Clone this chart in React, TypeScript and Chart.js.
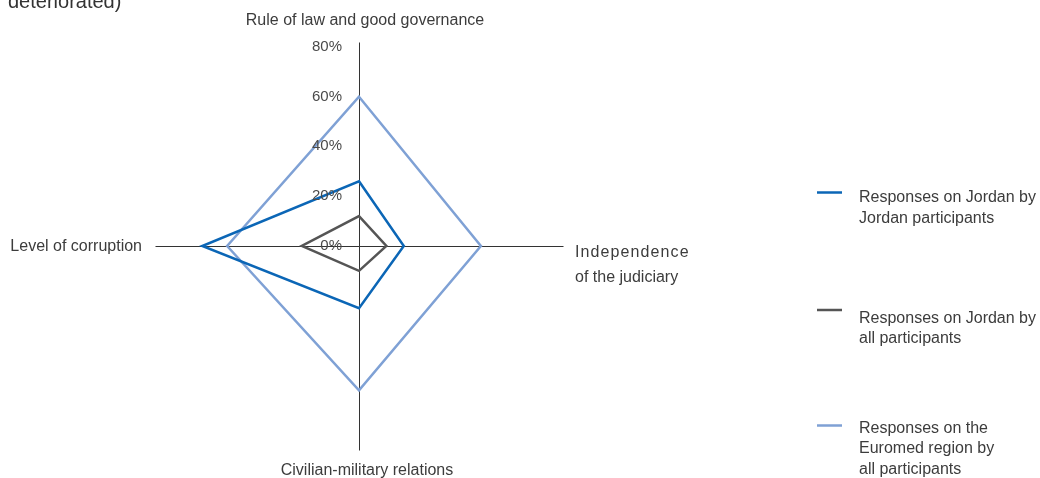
import { useEffect, useRef } from "react";
import { Chart, registerables } from "chart.js";

Chart.register(...registerables);

// ---- data ----
const AXIS_NAMES = [
  "Rule of law and good governance",
  "Independence of the judiciary",
  "Civilian-military relations",
  "Level of corruption",
];
const AXIS_TITLE_LINES = [
  ["Rule of law and good governance"],
  ["Independence", "of the judiciary"],
  ["Civilian-military relations"],
  ["Level of corruption"],
];
const JORDAN_BY_JORDAN = [26, 18, 25, 63];
const JORDAN_BY_ALL = [12, 11, 10, 23];
const EUROMED_BY_ALL = [60, 49, 58, 53];
const TICK_VALUES = [0, 20, 40, 60, 80];
const TICK_LABELS = ["0%", "20%", "40%", "60%", "80%"];
const SERIES_LINES = [
  ["Responses on Jordan by", "Jordan participants"],
  ["Responses on Jordan by", "all participants"],
  ["Responses on the", "Euromed region by", "all participants"],
];
const SERIES_COLORS = ["#0b66b6", "#555555", "#7fa1d5"];
const TITLE_TAIL = "deteriorated)";

const FONT = '"Liberation Sans", Arial, sans-serif';
const TEXT_COLOR = "#3c3c3c";

const axesPlugin = {
  id: "crispAxes",
  beforeDatasetsDraw(chart: any) {
    const ctx: CanvasRenderingContext2D = chart.ctx;
    const r = chart.scales.r;
    const outer = r.drawingArea;
    ctx.save();
    ctx.strokeStyle = "#333333";
    ctx.lineWidth = 1;
    AXIS_NAMES.forEach((_, i) => {
      const p = r.getPointPosition(i, outer);
      const cx = r.xCenter + 0.5;
      const cy = r.yCenter + 0.5;
      ctx.beginPath();
      ctx.moveTo(cx, cy);
      ctx.lineTo(Math.round(p.x) + 0.5, Math.round(p.y) + 0.5);
      ctx.stroke();
    });
    ctx.restore();
  },
};

const labelsPlugin = {
  id: "customLabels",
  afterDraw(chart: any) {
    const ctx: CanvasRenderingContext2D = chart.ctx;
    const r = chart.scales.r;
    const outer = r.drawingArea;
    ctx.save();

    // cut-off title tail
    ctx.font = `20px ${FONT}`;
    ctx.fillStyle = "#333333";
    ctx.textAlign = "left";
    ctx.textBaseline = "alphabetic";
    ctx.fillText(TITLE_TAIL, 8, 8);

    // tick labels
    ctx.font = `15px ${FONT}`;
    ctx.fillStyle = "#4a4a4a";
    ctx.textAlign = "right";
    TICK_VALUES.forEach((v, i) => {
      const p = r.getPointPositionForValue(0, v);
      ctx.fillText(TICK_LABELS[i], r.xCenter - 17, p.y + 4);
    });

    // axis titles
    ctx.font = `16px ${FONT}`;
    ctx.fillStyle = TEXT_COLOR;
    const p0 = r.getPointPosition(0, outer);
    ctx.textAlign = "center";
    ctx.fillText(AXIS_TITLE_LINES[0][0], p0.x + 6, p0.y - 17);

    const p1 = r.getPointPosition(1, outer);
    ctx.textAlign = "left";
    (ctx as any).letterSpacing = "1.1px";
    ctx.fillText(AXIS_TITLE_LINES[1][0], p1.x + 12, p1.y + 11);
    (ctx as any).letterSpacing = "0px";
    ctx.fillText(AXIS_TITLE_LINES[1][1], p1.x + 12, p1.y + 36);

    const p2 = r.getPointPosition(2, outer);
    ctx.textAlign = "center";
    ctx.fillText(AXIS_TITLE_LINES[2][0], p2.x + 8, p2.y + 25);

    const p3 = r.getPointPosition(3, outer);
    ctx.textAlign = "right";
    ctx.fillText(AXIS_TITLE_LINES[3][0], p3.x - 13, p3.y + 5);

    // legend
    const markerY = [192.5, 310, 425.5];
    const firstBaseline = [202, 322.5, 432.5];
    ctx.textAlign = "left";
    SERIES_LINES.forEach((lines, i) => {
      ctx.strokeStyle = SERIES_COLORS[i];
      ctx.lineWidth = 2.5;
      ctx.beginPath();
      ctx.moveTo(817, markerY[i]);
      ctx.lineTo(842, markerY[i]);
      ctx.stroke();
      ctx.fillStyle = TEXT_COLOR;
      lines.forEach((line, j) => {
        ctx.fillText(line, 859, firstBaseline[i] + j * 20.5);
      });
    });
    ctx.restore();
  },
};

export default function App() {
  const canvasRef = useRef<HTMLCanvasElement | null>(null);

  useEffect(() => {
    if (!canvasRef.current) return;
    const chart = new Chart(canvasRef.current, {
      type: "radar",
      data: {
        labels: AXIS_NAMES,
        datasets: [
          {
            label: SERIES_LINES[0].join(" "),
            data: JORDAN_BY_JORDAN,
            borderColor: SERIES_COLORS[0],
            backgroundColor: "transparent",
            borderWidth: 2.5,
            pointRadius: 0,
            fill: false,
          },
          {
            label: SERIES_LINES[1].join(" "),
            data: JORDAN_BY_ALL,
            borderColor: SERIES_COLORS[1],
            backgroundColor: "transparent",
            borderWidth: 2.5,
            pointRadius: 0,
            fill: false,
          },
          {
            label: SERIES_LINES[2].join(" "),
            data: EUROMED_BY_ALL,
            borderColor: SERIES_COLORS[2],
            backgroundColor: "transparent",
            borderWidth: 2.5,
            pointRadius: 0,
            fill: false,
          },
        ],
      },
      options: {
        responsive: false,
        animation: false,
        devicePixelRatio: 1,
        layout: { padding: { left: 155, right: 477, top: 42, bottom: 28 } },
        plugins: {
          legend: { display: false },
          tooltip: { enabled: false },
          title: { display: false },
        },
        elements: { line: { tension: 0 } },
        scales: {
          r: {
            min: 0,
            max: 82,
            ticks: { display: false },
            grid: { display: false },
            angleLines: { display: false },
            pointLabels: { display: false },
          },
        },
      },
      plugins: [axesPlugin, labelsPlugin],
    });
    return () => chart.destroy();
  }, []);

  return (
    <div style={{ position: "fixed", left: 0, top: 0, width: 1040, height: 478, background: "#ffffff" }}>
      <canvas ref={canvasRef} width={1040} height={478} style={{ display: "block" }} />
    </div>
  );
}
